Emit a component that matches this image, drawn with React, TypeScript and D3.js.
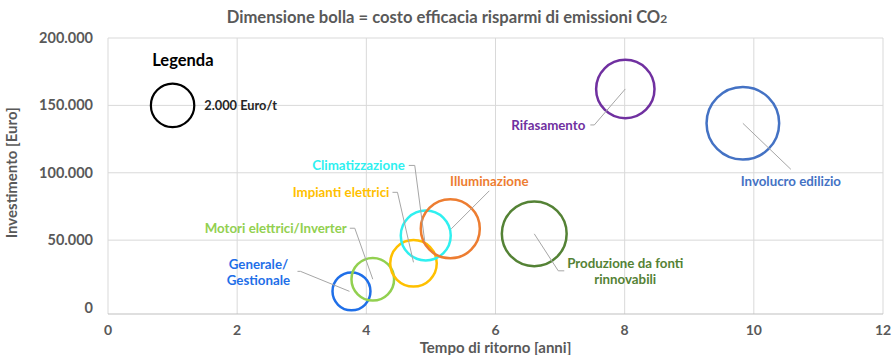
import React from 'react'
import * as d3 from 'd3'

// bubble data
const categories = [
  'Generale/Gestionale',
  'Motori elettrici/Inverter',
  'Impianti elettrici',
  'Climatizzazione',
  'Illuminazione',
  'Produzione da fonti rinnovabili',
  'Rifasamento',
  'Involucro edilizio',
]
const tempoRitorno = [3.77, 4.1, 4.73, 4.92, 5.3, 6.6, 8.01, 9.83]
const investimento = [12000, 21000, 32800, 53500, 58400, 54700, 162200, 136700]
const costoEfficacia = [1530, 1930, 2300, 2650, 3700, 4460, 3620, 5600]
const colors = ['#1f6fe8', '#92d050', '#ffc000', '#2ff0f0', '#ed7d31', '#548235', '#7030a0', '#4472c4']

const xTicks = [0, 2, 4, 6, 8, 10, 12]
const yTicks = [0, 50000, 100000, 150000, 200000]
const legendValue = 2000

// label placement: offsets in px from bubble centre (text anchor point), leader path points
const labelLayout = [
  { lines: ['Generale/', 'Gestionale'], dx: -93, dy: -27, anchor: 'middle', leader: [[-2, 0], [-51, -20], [-54, -20]] },
  { lines: ['Motori elettrici/Inverter'], dx: -26, dy: -51, anchor: 'end', leader: [[0, 0], [-18, -51], [-23, -51]] },
  { lines: ['Impianti elettrici'], dx: -24, dy: -71, anchor: 'end', leader: [[0, -1], [-16, -71], [-21, -71]] },
  { lines: ['Climatizzazione'], dx: -21, dy: -70, anchor: 'end', leader: [[-1, 6], [-11, -70], [-17, -70]] },
  { lines: ['Illuminazione'], dx: 39, dy: -47, anchor: 'middle', leader: [[1, 0], [39, -38]] },
  { lines: ['Produzione da fonti', 'rinnovabili'], dx: 91, dy: 30, anchor: 'middle', leader: [[0, 0], [24, 37], [30, 37]] },
  { lines: ['Rifasamento'], dx: -40, dy: 36, anchor: 'end', leader: [[0, 0], [-31, 36], [-35, 36]] },
  { lines: ['Involucro edilizio'], dx: 48, dy: 58, anchor: 'middle', leader: [[0, 0], [48, 46]] },
]

const W = 894
const H = 355
const margin = { top: 38, right: 11, bottom: 41, left: 108 }
const font = 'Lato, "Open Sans", sans-serif'
const textGray = '#595959'

export default function App() {
  const innerW = W - margin.left - margin.right
  const innerH = H - margin.top - margin.bottom

  const x = d3.scaleLinear().domain([0, 12]).range([0, innerW])
  const y = d3.scaleLinear().domain([-4800, 200000]).range([innerH, 0])
  const r = d3.scaleSqrt().domain([0, legendValue]).range([0, 21.7])
  const fmt = (v: number) => d3.format(',')(v).replace(/,/g, '.')

  const data = categories.map((c, i) => ({
    name: c,
    x: tempoRitorno[i],
    y: investimento[i],
    size: costoEfficacia[i],
    color: colors[i],
    layout: labelLayout[i],
  }))

  return (
    <svg width={W} height={H} style={{ position: 'absolute', left: 0, top: 0, background: '#fff' }} fontFamily={font}>
      <text x={W / 2} y={23} textAnchor="middle" fontSize={16.6} fontWeight="bold" fill={textGray}>
        Dimensione bolla = costo efficacia risparmi di emissioni CO<tspan fontSize={12}>2</tspan>
      </text>

      <g transform={`translate(${margin.left},${margin.top})`}>
        {/* grid */}
        {yTicks.filter(t => t > 0).map(t => (
          <line key={'gy' + t} x1={0} x2={innerW} y1={y(t)} y2={y(t)} stroke="#d9d9d9" strokeWidth={1} />
        ))}
        {xTicks.map(t => (
          <line key={'gx' + t} x1={x(t)} x2={x(t)} y1={0} y2={innerH} stroke="#d9d9d9" strokeWidth={1} />
        ))}
        <line x1={0} x2={innerW} y1={innerH} y2={innerH} stroke="#bfbfbf" strokeWidth={1} />

        {/* tick labels */}
        {yTicks.map(t => (
          <text key={'ty' + t} x={-15} y={y(t)} dy="0.35em" textAnchor="end" fontSize={14.5} fontWeight="bold" fill={textGray}>
            {fmt(t)}
          </text>
        ))}
        {xTicks.map(t => (
          <text key={'tx' + t} x={x(t)} y={innerH + 21} textAnchor="middle" fontSize={14} fontWeight="bold" fill={textGray}>
            {t}
          </text>
        ))}

        {/* axis titles */}
        <text x={x(6)} y={innerH + 39} textAnchor="middle" fontSize={15} fontWeight="bold" fill={textGray}>
          Tempo di ritorno [anni]
        </text>
        <text transform={`translate(${-91},${y(100000)}) rotate(-90)`} textAnchor="middle" fontSize={15} fontWeight="bold" fill={textGray}>
          Investimento [Euro]
        </text>

        {/* legend */}
        <text x={x(1.16)} y={y(179000)} textAnchor="middle" fontSize={16.5} fontWeight="bold" fill="#000">
          Legenda
        </text>
        <circle cx={x(1)} cy={y(150000)} r={r(legendValue)} fill="none" stroke="#000" strokeWidth={2.2} />
        <text x={x(1) + r(legendValue) + 10} y={y(150000)} dy="0.35em" fontSize={12.8} fontWeight="bold" fill="#262626">
          {fmt(legendValue)} Euro/t
        </text>

        {/* bubbles */}
        {data.map(d => (
          <circle key={d.name} cx={x(d.x)} cy={y(d.y)} r={r(d.size)} fill="none" stroke={d.color} strokeWidth={2.5} />
        ))}

        {/* leader lines and labels */}
        {data.map(d => {
          const cx = x(d.x)
          const cy = y(d.y)
          const pts = d.layout.leader.map(p => [cx + p[0], cy + p[1]] as [number, number])
          return (
            <g key={'l' + d.name}>
              <path d={d3.line()(pts) || ''} fill="none" stroke="#a6a6a6" strokeWidth={1} />
              <text x={cx + d.layout.dx} y={cy + d.layout.dy} textAnchor={d.layout.anchor} fontSize={13.3} fontWeight="bold" fill={d.color}>
                {d.layout.lines.map((ln, i) => (
                  <tspan key={i} x={cx + d.layout.dx} dy={i === 0 ? '0.35em' : '1.2em'}>{ln}</tspan>
                ))}
              </text>
            </g>
          )
        })}
      </g>
    </svg>
  )
}
